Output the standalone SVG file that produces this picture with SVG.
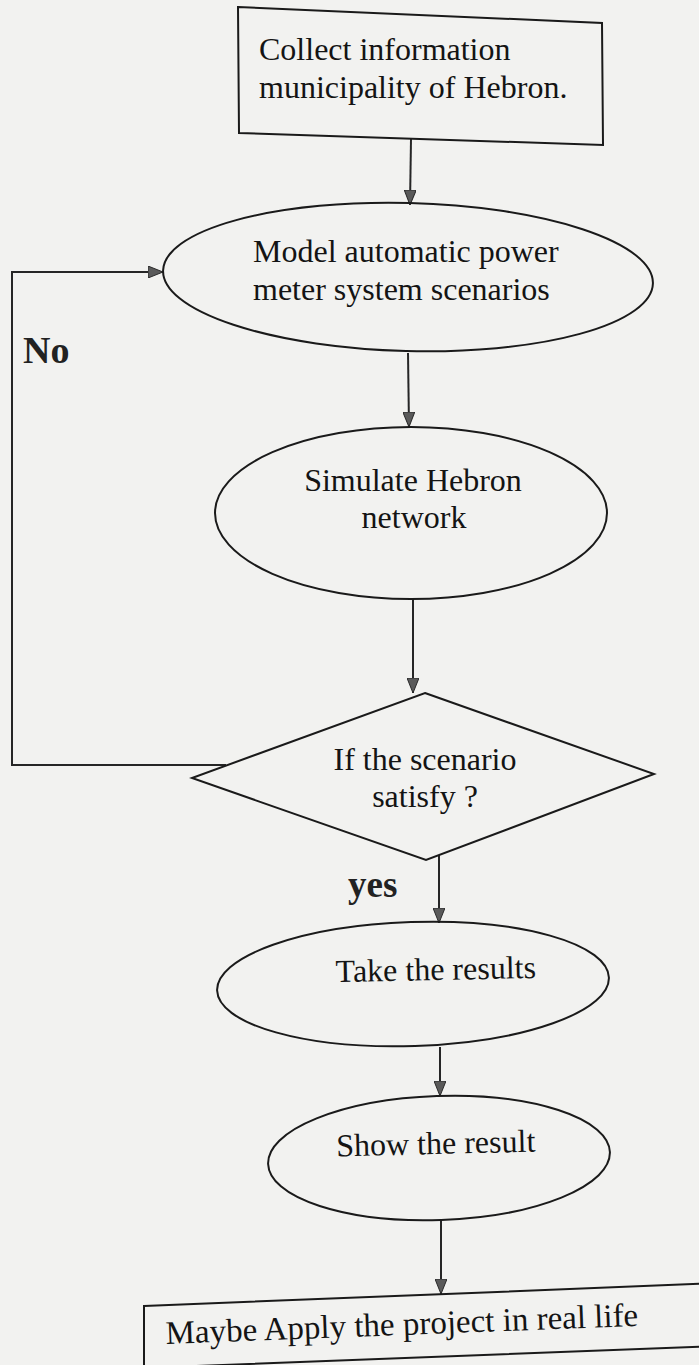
<svg xmlns="http://www.w3.org/2000/svg" width="699" height="1365" viewBox="0 0 699 1365">
  <style>
    .shape { fill: none; stroke: #1a1a1a; stroke-width: 2; }
    .conn { fill: none; stroke: #262626; stroke-width: 2; }
    .t { font-family: "Liberation Serif", "Times New Roman", serif; font-size: 32px; fill: #141414; }
    .lbl { font-family: "Liberation Serif", "Times New Roman", serif; font-size: 37px; font-weight: bold; fill: #222222; }
  </style>
  <defs>
    <marker id="arrow" viewBox="0 0 15 12" refX="15" refY="6" markerWidth="15" markerHeight="12" markerUnits="userSpaceOnUse" orient="auto">
      <path d="M0,0 L15,6 L0,12 z" fill="#5a5a5a" stroke="#2a2a2a" stroke-width="1"/>
    </marker>
  </defs>
  <rect x="0" y="0" width="699" height="1365" fill="#f2f2f0"/>

  <g id="connectors">
    <line class="conn" x1="411" y1="139" x2="410" y2="205" marker-end="url(#arrow)"/>
    <line class="conn" x1="408" y1="353" x2="409" y2="427" marker-end="url(#arrow)"/>
    <line class="conn" x1="413" y1="600" x2="413" y2="693" marker-end="url(#arrow)"/>
    <line class="conn" x1="439" y1="855" x2="439" y2="923" marker-end="url(#arrow)"/>
    <line class="conn" x1="440" y1="1047" x2="440" y2="1096" marker-end="url(#arrow)"/>
    <line class="conn" x1="441" y1="1220" x2="441" y2="1294" marker-end="url(#arrow)"/>
    <polyline class="conn" points="226,765 12,765 12,272 163,272" marker-end="url(#arrow)"/>
  </g>

  <g id="node-collect">
    <polygon class="shape" points="238,7 602,23 603,145 239,133"/>
    <text class="t" x="259" y="60">Collect information</text>
    <text class="t" x="259" y="98">municipality of Hebron.</text>
  </g>

  <g id="node-model">
    <ellipse class="shape" cx="408" cy="277" rx="245" ry="74" transform="rotate(1.5 408 277)"/>
    <text class="t" x="253" y="262">Model automatic power</text>
    <text class="t" x="253" y="300">meter system scenarios</text>
  </g>

  <g id="node-simulate">
    <ellipse class="shape" cx="411" cy="513" rx="196" ry="86"/>
    <text class="t" x="413" y="491" text-anchor="middle">Simulate Hebron</text>
    <text class="t" x="414" y="528" text-anchor="middle">network</text>
  </g>

  <g id="node-decision">
    <polygon class="shape" points="425,693 654,774 426,860 192,778"/>
    <text class="t" x="425" y="770" text-anchor="middle">If the scenario</text>
    <text class="t" x="425" y="807" text-anchor="middle">satisfy ?</text>
  </g>

  <g id="label-no">
    <text class="lbl" x="23" y="363" style="font-size:38px">No</text>
  </g>
  <g id="label-yes">
    <text class="lbl" x="348" y="897">yes</text>
  </g>

  <g id="node-take">
    <ellipse class="shape" cx="413" cy="984" rx="196" ry="62" transform="rotate(-1.9 413 984)"/>
    <text class="t" x="436" y="980" text-anchor="middle" transform="rotate(-1.2 436 980)">Take the results</text>
  </g>

  <g id="node-show">
    <ellipse class="shape" cx="439" cy="1158" rx="171" ry="62" transform="rotate(-2 439 1158)"/>
    <text class="t" x="436" y="1154" text-anchor="middle" transform="rotate(-1.4 436 1154)">Show the result</text>
  </g>

  <g id="node-apply">
    <polygon class="shape" points="144,1306 720,1283 720,1346 144,1368"/>
    <text class="t" x="166" y="1344" style="font-size:33px" transform="rotate(-2.2 166 1344)">Maybe Apply the project in real life</text>
  </g>
</svg>
